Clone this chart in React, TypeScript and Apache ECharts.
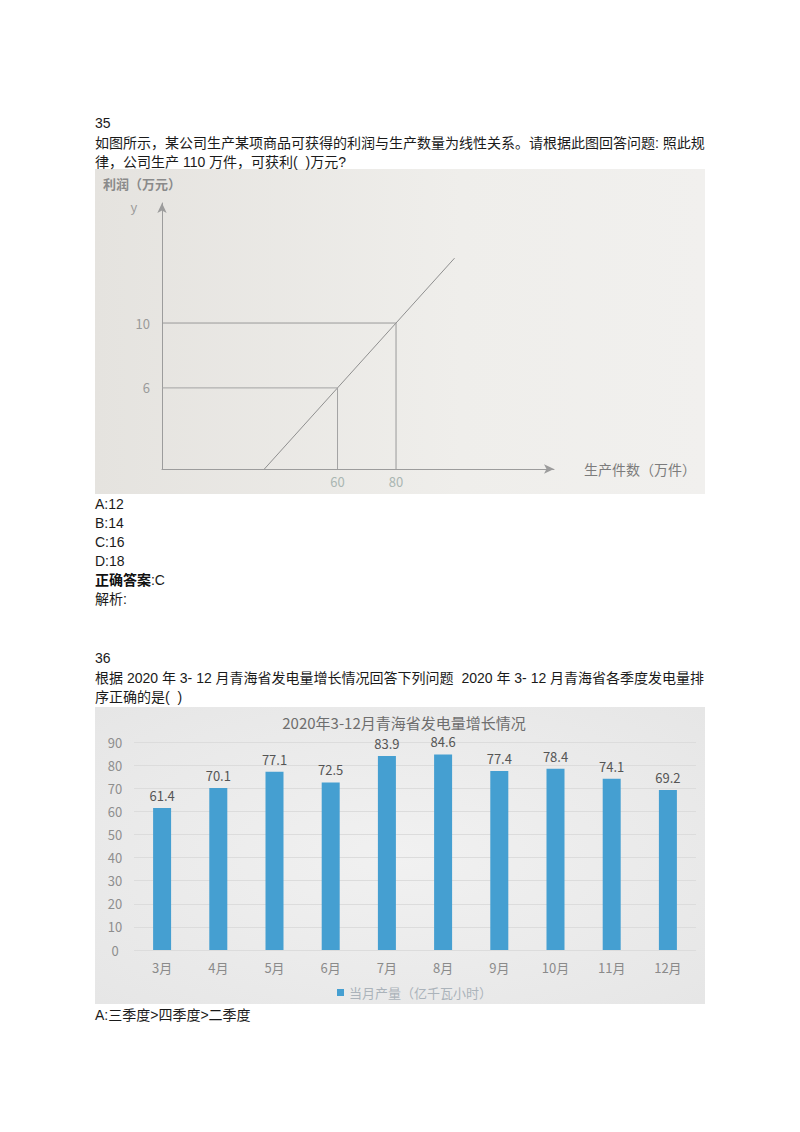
import React, { useEffect, useRef } from "react";
import * as echarts from "echarts";

// ---- Question 35 chart data ----
const profitXTicks = [60, 80];
const profitYTicks = [6, 10];
const profitLine = [
  [35, 1],
  [60, 6],
  [80, 10],
  [100, 14],
];
const guide10 = [
  [0, 10],
  [80, 10],
  [80, 1],
];
const guide6 = [
  [0, 6],
  [60, 6],
  [60, 1],
];

// ---- Question 36 chart data ----
const months = ["3月", "4月", "5月", "6月", "7月", "8月", "9月", "10月", "11月", "12月"];
const output = [61.4, 70.1, 77.1, 72.5, 83.9, 84.6, 77.4, 78.4, 74.1, 69.2];
const outputName = "当月产量（亿千瓦小时）";

const docFont = '"Liberation Sans", Arial, "Noto Sans CJK SC", sans-serif';
const cjkFont = '"Noto Sans CJK SC", "Liberation Sans", sans-serif';

const docLines: { text: string; y: number }[] = [
  { text: "35", y: 123 },
  { text: "如图所示，某公司生产某项商品可获得的利润与生产数量为线性关系。请根据此图回答问题: 照此规", y: 143 },
  { text: "律，公司生产 110 万件，可获利(  )万元?", y: 162 },
  { text: "A:12", y: 504 },
  { text: "B:14", y: 523 },
  { text: "C:16", y: 542 },
  { text: "D:18", y: 561 },
  { text: "{b|正确答案}:C", y: 580 },
  { text: "解析:", y: 599 },
  { text: "36", y: 658 },
  { text: "根据 2020 年 3- 12 月青海省发电量增长情况回答下列问题  2020 年 3- 12 月青海省各季度发电量排", y: 678 },
  { text: "序正确的是(  )", y: 697 },
  { text: "A:三季度>四季度>二季度", y: 1015 },
];

export default function App() {
  const ref = useRef<HTMLDivElement>(null);

  useEffect(() => {
    document.body.style.margin = "0";
    const chart = echarts.init(ref.current as HTMLDivElement, undefined, { renderer: "svg" });

    const graphics: any[] = [
      {
        type: "rect",
        z: -10,
        shape: { x: 95, y: 169, width: 610, height: 325 },
        style: {
          fill: {
            type: "linear",
            x: 0,
            y: 0,
            x2: 1,
            y2: 0,
            colorStops: [
              { offset: 0, color: "#e5e3df" },
              { offset: 0.6, color: "#efeeeb" },
              { offset: 1, color: "#f1f0ee" },
            ],
          },
        },
      },
      {
        type: "rect",
        z: -10,
        shape: { x: 95, y: 707, width: 610, height: 297 },
        style: {
          fill: {
            type: "radial",
            x: 0.5,
            y: 0.5,
            r: 0.7,
            colorStops: [
              { offset: 0, color: "#f1f1f1" },
              { offset: 1, color: "#e6e6e6" },
            ],
          },
        },
      },
      {
        type: "text",
        x: 103,
        y: 183,
        style: {
          text: "利润（万元）",
          fill: "#8a8a8a",
          fontSize: 13,
          fontWeight: "bold",
          fontFamily: cjkFont,
          verticalAlign: "middle",
        },
      },
      {
        type: "text",
        x: 134,
        y: 206,
        style: {
          text: "y",
          fill: "#9a9a9a",
          fontSize: 13,
          fontFamily: cjkFont,
          align: "center",
          verticalAlign: "middle",
        },
      },
      {
        type: "text",
        x: 404,
        y: 722,
        style: {
          text: "2020年3-12月青海省发电量增长情况",
          fill: "#6e6e6e",
          fontSize: 15,
          fontFamily: cjkFont,
          align: "center",
          verticalAlign: "middle",
        },
      },
      ...docLines.map((l) => ({
        type: "text",
        x: 95,
        y: l.y,
        style: {
          text: l.text,
          fill: "#1a1a1a",
          fontSize: 14,
          fontFamily: docFont,
          verticalAlign: "middle",
          rich: {
            b: { fontWeight: "bold", fontSize: 14, fontFamily: docFont, fill: "#111" },
          },
        },
      })),
    ];

    chart.setOption({
      animation: false,
      graphic: graphics,
      grid: [
        { left: 162, top: 203, width: 392, height: 266, containLabel: false },
        { left: 134, top: 742, width: 562, height: 208, containLabel: false },
      ],
      legend: {
        data: [outputName],
        left: 332,
        top: 981,
        icon: "rect",
        itemWidth: 7,
        itemHeight: 7,
        itemGap: 6,
        textStyle: { color: "#abb3ba", fontSize: 13, fontFamily: cjkFont },
      },
      xAxis: [
        {
          type: "value",
          gridIndex: 0,
          min: 0,
          max: 134,
          axisLine: {
            show: true,
            symbol: ["none", "arrow"],
            symbolSize: [7, 10],
            lineStyle: { color: "#9c9c9c", width: 1 },
          },
          axisTick: { show: false },
          splitLine: { show: false },
          axisLabel: {
            customValues: profitXTicks,
            color: "#aab6b2",
            fontSize: 13,
            margin: 6,
            fontFamily: cjkFont,
          },
          name: "生产件数（万件）",
          nameLocation: "end",
          nameGap: 30,
          nameTextStyle: { color: "#7c7c7c", fontSize: 14, fontFamily: cjkFont, padding: [0, 0, 8, 0] },
        },
        {
          type: "category",
          gridIndex: 1,
          data: months,
          axisLine: { show: false },
          axisTick: { show: false },
          axisLabel: { color: "#8a8a8a", fontSize: 13, margin: 11, fontFamily: cjkFont },
        },
      ],
      yAxis: [
        {
          type: "value",
          gridIndex: 0,
          min: 1,
          max: 17.4,
          axisLine: {
            show: true,
            symbol: ["none", "arrow"],
            symbolSize: [7, 10],
            lineStyle: { color: "#9c9c9c", width: 1 },
          },
          axisTick: { show: false },
          splitLine: { show: false },
          axisLabel: {
            customValues: profitYTicks,
            color: "#9a9a9a",
            fontSize: 13,
            margin: 12,
            fontFamily: cjkFont,
          },
        },
        {
          type: "value",
          gridIndex: 1,
          min: 0,
          max: 90,
          interval: 10,
          axisLine: { show: false },
          axisTick: { show: false },
          splitLine: { show: true, lineStyle: { color: "#dcdcdc", width: 1 } },
          axisLabel: { color: "#8e8e8e", fontSize: 13, margin: 19, align: "center", fontFamily: cjkFont },
        },
      ],
      series: [
        {
          name: "利润",
          type: "line",
          xAxisIndex: 0,
          yAxisIndex: 0,
          data: profitLine,
          showSymbol: false,
          symbol: "none",
          lineStyle: { color: "#8f8f8f", width: 1 },
          silent: true,
        },
        {
          name: "guide10",
          type: "line",
          xAxisIndex: 0,
          yAxisIndex: 0,
          data: guide10,
          symbol: "none",
          lineStyle: { color: "#999999", width: 1 },
          silent: true,
        },
        {
          name: "guide6",
          type: "line",
          xAxisIndex: 0,
          yAxisIndex: 0,
          data: guide6,
          symbol: "none",
          lineStyle: { color: "#a3a3a3", width: 1 },
          silent: true,
        },
        {
          name: outputName,
          type: "bar",
          xAxisIndex: 1,
          yAxisIndex: 1,
          data: output,
          barWidth: 18,
          itemStyle: { color: "#459fd1" },
          label: {
            show: true,
            position: "top",
            distance: 6,
            color: "#555555",
            fontSize: 13,
            fontFamily: cjkFont,
          },
        },
      ],
    });

    return () => chart.dispose();
  }, []);

  return (
    <div
      ref={ref}
      style={{ position: "absolute", left: 0, top: 0, width: 800, height: 1132, background: "#ffffff" }}
    />
  );
}
